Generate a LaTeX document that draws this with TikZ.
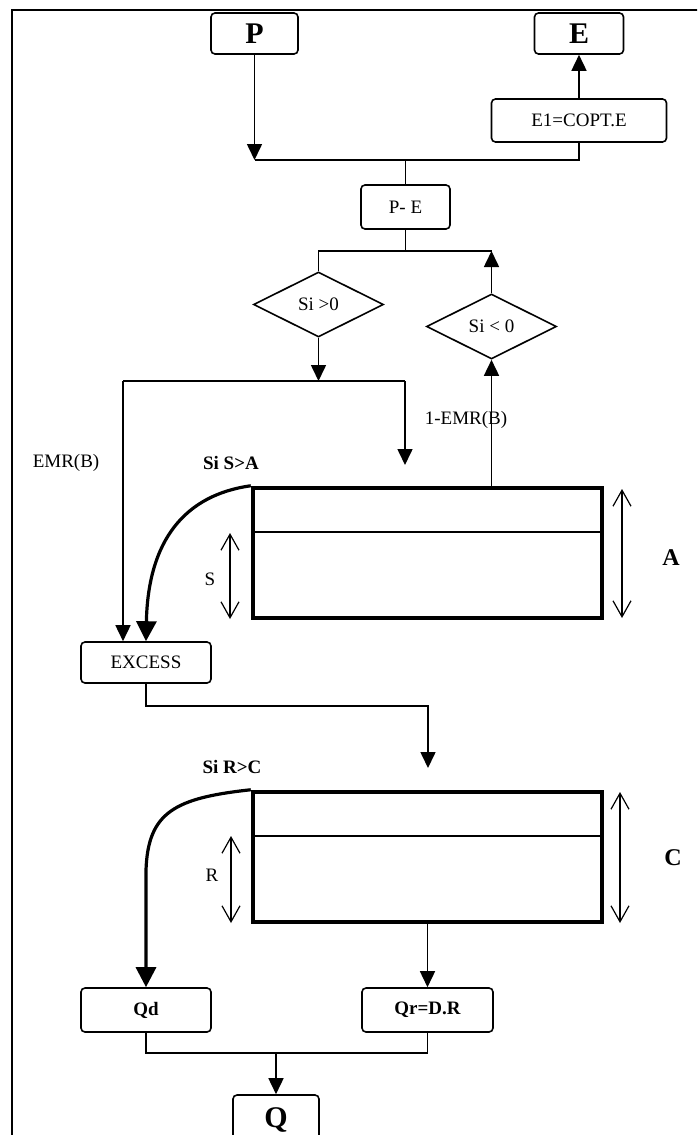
\documentclass[tikz,border=0pt]{standalone}
\usepackage{fontspec}
\setmainfont{Liberation Serif}
\usetikzlibrary{arrows.meta,shapes.geometric,calc}
\begin{document}
\begin{tikzpicture}[x=1pt,y=-1pt,
  ln/.style={line width=1.6pt},
  arr/.style={ln,-{Triangle[length=16pt,width=15pt]}},
  curvearr/.style={line width=3.2pt,-{Triangle[length=20pt,width=20pt]}},
  dbl/.style={line width=1.2pt,{Straight Barb[length=16pt,width=18pt,line width=1.2pt]}-{Straight Barb[length=16pt,width=18pt,line width=1.2pt]}},
  box/.style={draw,line width=1.6pt,rounded corners=4pt,inner sep=0pt,font=\fontsize{19}{21}\selectfont},
  boldbox/.style={box,font=\fontsize{19}{21}\selectfont\bfseries},
  bigbox/.style={box,font=\fontsize{30}{32}\selectfont\bfseries},
  dia/.style={draw,diamond,line width=1.6pt,inner sep=0pt,minimum width=130pt,minimum height=65pt,font=\fontsize{19}{21}\selectfont},
  tank/.style={draw,line width=4.5pt,inner sep=0pt,minimum width=349pt,minimum height=130pt},
  lbl/.style={inner sep=0pt,font=\fontsize{19}{21}\selectfont},
  blbl/.style={inner sep=0pt,font=\fontsize{19}{21}\selectfont\bfseries},
  biglbl/.style={inner sep=0pt,font=\fontsize{24}{26}\selectfont\bfseries}
]
\clip (0,0) rectangle (697,1135);
\fill[white] (0,0) rectangle (697,1135);
% frame
\draw[line width=2pt] (12,1140) -- (12,10) -- (700,10);

% top boxes
\node[bigbox,minimum width=87pt,minimum height=41pt] (P) at (254.5,33.5) {P};
\node[bigbox,minimum width=89pt,minimum height=41pt] (E) at (579,33.5) {E};
\node[box,minimum width=175pt,minimum height=43pt] (E1) at (579,120.5) {E1=COPT.E};
\node[box,minimum width=89pt,minimum height=44pt] (PE) at (405.5,207) {P- E};
\coordinate (j1) at (405.5,160);
\coordinate (j2) at (405.5,251);

\draw[arr] (E1.north) -- (E.south);
\draw[ln] (E1.south) -- (E1.south |- j1) -- (P.south |- j1);
\draw[arr] (P.south) -- (P.south |- j1);
\draw[ln] (j1) -- (PE.north);

% diamonds
\node[dia] (d1) at (318.5,304.5) {Si >0};
\node[dia] (d2) at (491.5,326.5) {Si < 0};
\draw[ln] (PE.south) -- (j2);
\draw[ln] (d1.north) -- (d1.north |- j2) -- (d2.north |- j2);
\draw[arr] (d2.north) -- (d2.north |- j2);

% tank A
\node[tank] (A) at (427.5,553) {};
\draw[line width=1.1pt] (253,532) -- (602,532);
\node[box,minimum width=130pt,minimum height=41pt] (EX) at (146,662.5) {EXCESS};

\coordinate (j3) at (318.5,381);
\coordinate (j3l) at (123,381);
\coordinate (ain) at (405,465);
\draw[arr] (d1.south) -- (j3);
\draw[ln] (j3l) -- (ain |- j3);
\draw[arr] (ain |- j3) -- (ain);
\draw[arr] (j3l) -- (j3l |- EX.north);
\draw[arr] (A.north -| d2.south) -- (d2.south);
\node[lbl] (l1) at (466,420) {1-EMR(B)};
\node[lbl] (lemr) at (66,463) {EMR(B)};
\node[blbl] (lsa) at (231,463) {Si S>A};
\draw[curvearr] (A.north west) .. controls (185,495) and (148,540) .. (EX.north);

\draw[dbl] (622,489) -- (622,618);
\node[biglbl] (lA) at (671,558) {A};
\draw[dbl] (230,533) -- (230,619);
\node[lbl] (lS) at (210,579) {S};

% tank C
\node[tank] (C) at (427.5,857) {};
\draw[line width=1.1pt] (253,836) -- (602,836);
\coordinate (cin) at (428,768);
\draw[ln] (EX.south) -- (EX.south |- 0,706) -| (cin |- 0,740);
\draw[arr] (cin |- 0,705) -- (cin);
\node[blbl] (lrc) at (232,767) {Si R>C};
\draw[dbl] (620,792) -- (620,923);
\node[biglbl] (lC) at (673,858) {C};
\draw[dbl] (231,836) -- (231,923);
\node[lbl] (lR) at (212,875) {R};

% outputs
\node[boldbox,minimum width=130pt,minimum height=44pt] (Qd) at (146,1010) {Qd};
\node[boldbox,minimum width=131pt,minimum height=44pt] (Qr) at (427.5,1010) {Qr=D.R};
\node[bigbox,minimum width=86pt,minimum height=50pt] (Q) at (276,1120) {Q};
\draw[arr] (C.south) -- (Qr.north);
\draw[curvearr] (C.north west) .. controls (175,798) and (148,812) .. (146,870) -- (Qd.north);
\coordinate (j4) at (276,1053);
\draw[ln] (Qd.south) |- (j4) -| (Qr.south);
\draw[arr] (j4) -- (Q.north);
\end{tikzpicture}
\end{document}
